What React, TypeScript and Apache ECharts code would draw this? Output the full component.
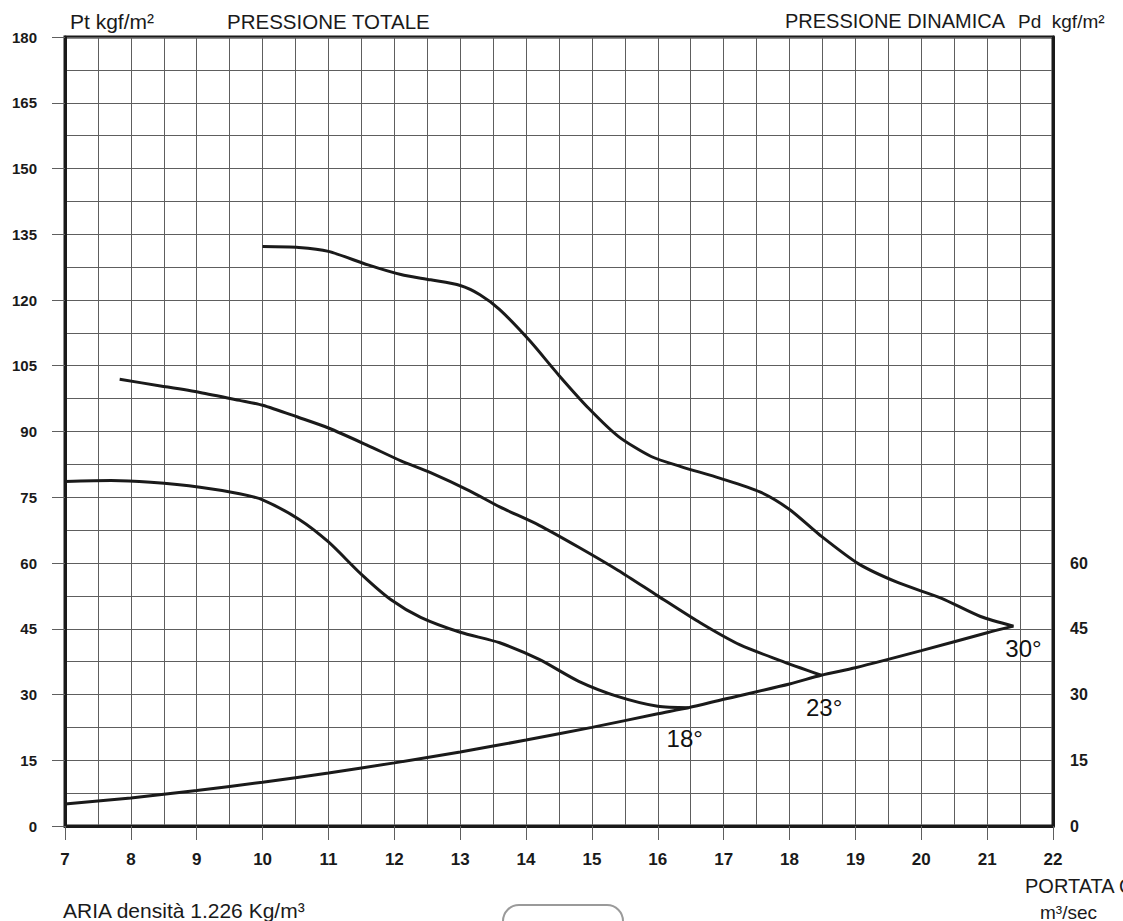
import React, { useEffect, useRef } from "react";
import * as echarts from "echarts";

// Portata Q (m³/sec) and Pressione totale Pt (kgf/m²) for the three blade angles
const flow18 = [7, 7.7, 8.3, 9.05, 9.65, 10.0, 10.55, 11.0, 11.5, 11.95, 12.4, 13.0, 13.6, 14.2, 14.8, 15.4, 16.0, 16.47];
const pt18 = [78.6, 78.8, 78.4, 77.3, 75.8, 74.4, 70.0, 64.8, 57.4, 51.6, 47.6, 44.2, 41.8, 38.0, 33.0, 29.5, 27.3, 27.0];

const flow23 = [7.83, 8.45, 9.05, 9.65, 10.0, 10.55, 11.0, 11.6, 12.1, 12.55, 13.15, 13.6, 14.2, 14.8, 15.4, 16.0, 16.65, 17.25, 17.85, 18.48];
const pt23 = [101.9, 100.4, 98.9, 97.1, 96.0, 93.2, 90.8, 86.8, 83.3, 80.6, 76.4, 72.8, 68.6, 63.6, 58.3, 52.5, 46.3, 41.3, 37.8, 34.4];

const flow30 = [10.0, 10.55, 11.0, 11.6, 12.1, 12.55, 13.0, 13.3, 13.6, 14.05, 14.5, 14.95, 15.4, 15.9, 16.35, 16.95, 17.55, 18.0, 18.45, 19.05, 19.65, 20.3, 20.9, 21.4];
const pt30 = [132.2, 132.0, 131.1, 128.0, 125.8, 124.6, 123.3, 121.2, 117.8, 110.8, 102.8, 95.3, 88.9, 84.3, 82.0, 79.3, 76.2, 72.2, 66.5, 59.8, 55.5, 52.0, 47.8, 45.6];

// Pressione dinamica Pd (kgf/m²) vs portata
const flowSys = [7, 8, 9, 10, 11, 12, 13, 14, 15, 16, 16.47, 17, 18, 18.48, 19, 20, 21, 21.4];
const pdSys = [5.0, 6.4, 8.1, 10.0, 12.1, 14.4, 16.9, 19.6, 22.5, 25.6, 27.0, 28.9, 32.4, 34.4, 36.1, 40.0, 44.1, 45.6];

const angleLabels = ["18°", "23°", "30°"];

const xMin = 7;
const xMax = 22;
const yMin = 0;
const yMax = 180;
const yStep = 15;
const pdMaxLabel = 60;

const FONT = "'Liberation Sans', Arial, Helvetica, sans-serif";
const INK = "#1a1a1a";
const GRID = "#5e5e5e";

const zip = (xs: number[], ys: number[]) => xs.map((x, i) => [x, ys[i]]);

// label offsets (px) for the angle labels, relative to curve end point
const labelOffsets: [number, number][] = [
  [-4, 31],
  [3, 32],
  [10, 22],
];

export default function App() {
  const ref = useRef<HTMLDivElement>(null);

  useEffect(() => {
    if (!ref.current) return;
    const chart = echarts.init(ref.current, null, { renderer: "svg" });

    const curves = [
      { x: flow18, y: pt18 },
      { x: flow23, y: pt23 },
      { x: flow30, y: pt30 },
    ];

    const lineSeries = (data: number[][], name: string) => ({
      type: "line",
      name,
      data,
      smooth: 0.25,
      showSymbol: false,
      symbol: "none",
      lineStyle: { color: INK, width: 3 },
      z: 5,
    });

    const endData = curves.map((c, i) => {
      const n = c.x.length - 1;
      return {
        value: [c.x[n], c.y[n]],
        name: angleLabels[i],
        label: { offset: labelOffsets[i] },
      };
    });

    const option: any = {
      animation: false,
      backgroundColor: "#ffffff",
      textStyle: { fontFamily: FONT },
      grid: {
        left: 65,
        right: 70,
        top: 37,
        bottom: 95,
        show: true,
        borderColor: INK,
        borderWidth: 3,
        backgroundColor: "transparent",
      },
      xAxis: {
        type: "value",
        min: xMin,
        max: xMax,
        interval: 1,
        axisLine: { show: true, onZero: false, lineStyle: { color: INK, width: 3 } },
        axisTick: { show: true, length: 14, lineStyle: { color: GRID, width: 1 } },
        minorTick: { show: false, splitNumber: 2 },
        axisLabel: {
          margin: 25,
          fontSize: 17,
          fontWeight: "bold",
          color: INK,
          fontFamily: FONT,
        },
        splitLine: { show: true, lineStyle: { color: GRID, width: 1 } },
        minorSplitLine: { show: true, lineStyle: { color: GRID, width: 1 } },
      },
      yAxis: [
        {
          type: "value",
          min: yMin,
          max: yMax,
          interval: yStep,
          position: "left",
          axisLine: { show: true, onZero: false, lineStyle: { color: INK, width: 3 } },
          axisTick: { show: true, length: 13, lineStyle: { color: GRID, width: 1 } },
          minorTick: { show: false, splitNumber: 2 },
          axisLabel: {
            margin: 28,
            fontSize: 15,
            fontWeight: "bold",
            color: INK,
            fontFamily: FONT,
          },
          splitLine: { show: true, lineStyle: { color: GRID, width: 1 } },
          minorSplitLine: { show: true, lineStyle: { color: GRID, width: 1 } },
        },
        {
          type: "value",
          min: yMin,
          max: yMax,
          interval: yStep,
          position: "right",
          axisLine: { show: true, onZero: false, lineStyle: { color: INK, width: 3 } },
          axisTick: { show: false },
          axisLabel: {
            margin: 17,
            fontSize: 16,
            fontWeight: "bold",
            color: INK,
            fontFamily: FONT,
            formatter: (v: number) => (v <= pdMaxLabel ? String(v) : ""),
          },
          splitLine: { show: false },
        },
      ],
      series: [
        lineSeries(zip(flow18, pt18), "18°"),
        lineSeries(zip(flow23, pt23), "23°"),
        lineSeries(zip(flow30, pt30), "30°"),
        lineSeries(zip(flowSys, pdSys), "Pd"),
        {
          type: "scatter",
          name: "angles",
          data: endData,
          symbolSize: 0.01,
          itemStyle: { color: INK, opacity: 1 },
          label: {
            show: true,
            position: "inside",
            formatter: "{b}",
            fontSize: 24,
            color: "#111111",
            opacity: 1,
            fontFamily: FONT,
          },
          emphasis: { disabled: true },
          z: 6,
        },
      ],
      graphic: [
        {
          type: "text",
          x: 70,
          y: 21,
          style: { text: "Pt kgf/m²", fontSize: 21, fontFamily: FONT, fill: INK, verticalAlign: "middle" },
        },
        {
          type: "text",
          x: 227,
          y: 21,
          style: { text: "PRESSIONE TOTALE", fontSize: 20.5, fontFamily: FONT, fill: INK, verticalAlign: "middle" },
        },
        {
          type: "text",
          x: 785,
          y: 21,
          style: { text: "PRESSIONE DINAMICA", fontSize: 20, fontFamily: FONT, fill: INK, verticalAlign: "middle" },
        },
        {
          type: "text",
          x: 1018,
          y: 21,
          style: { text: "Pd  kgf/m²", fontSize: 19, fontFamily: FONT, fill: INK, verticalAlign: "middle" },
        },
        {
          type: "text",
          x: 63,
          y: 910,
          style: { text: "ARIA densità 1.226 Kg/m³", fontSize: 21, fontFamily: FONT, fill: INK, verticalAlign: "middle" },
        },
        {
          type: "text",
          x: 1025,
          y: 886,
          style: { text: "PORTATA Q", fontSize: 20, fontFamily: FONT, fill: INK, verticalAlign: "middle" },
        },
        {
          type: "text",
          x: 1040,
          y: 912,
          style: { text: "m³/sec", fontSize: 19, fontFamily: FONT, fill: INK, verticalAlign: "middle" },
        },
        {
          type: "rect",
          shape: { x: 503, y: 905, width: 120, height: 40, r: 16 },
          style: { fill: "none", stroke: "#9a9a9a", lineWidth: 2 },
        },
      ],
    };

    chart.setOption(option);
    return () => chart.dispose();
  }, []);

  return (
    <div
      ref={ref}
      style={{ position: "absolute", left: 0, top: 0, width: 1123, height: 921 }}
    />
  );
}
